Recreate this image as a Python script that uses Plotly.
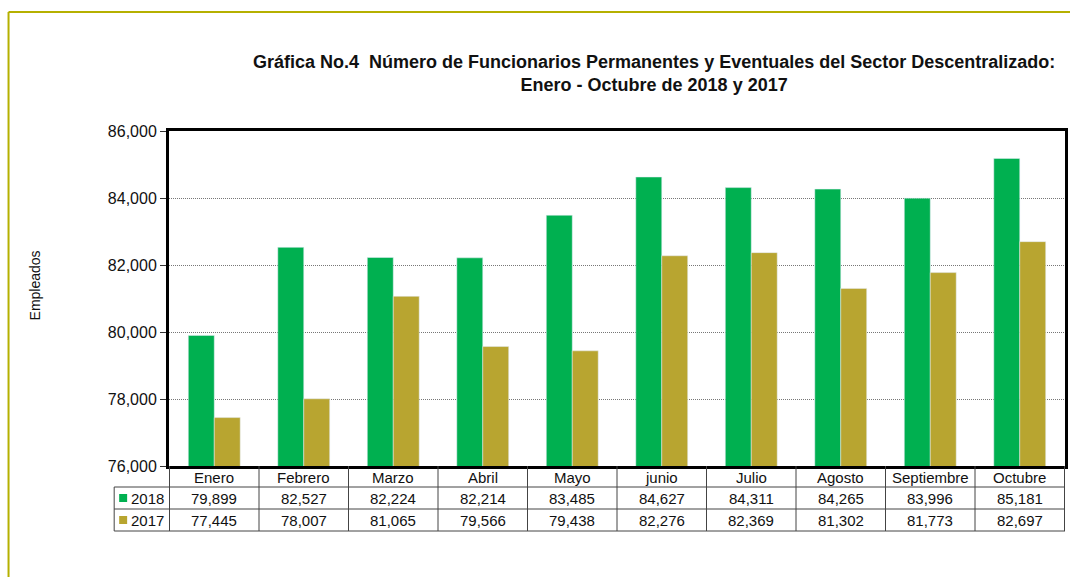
import plotly.graph_objects as go

months = ["Enero", "Febrero", "Marzo", "Abril", "Mayo", "junio", "Julio",
          "Agosto", "Septiembre", "Octubre"]
emp_2018 = [79899, 82527, 82224, 82214, 83485, 84627, 84311, 84265, 83996, 85181]
emp_2017 = [77445, 78007, 81065, 79566, 79438, 82276, 82369, 81302, 81773, 82697]

GREEN = "#00b050"
OLIVE = "#b8a530"
FONT = "Liberation Sans, Arial, sans-serif"

fig = go.Figure()
fig.add_trace(go.Bar(x=months, y=emp_2018, name="2018", marker_color=GREEN))
fig.add_trace(go.Bar(x=months, y=emp_2017, name="2017", marker_color=OLIVE))

# data table below the plot (paper y: 1 unit = 335 px)
px = 1 / 335.0
y_head, y_r1, y_r2 = -11 * px, -32 * px, -54 * px
y_l1, y_l2, y_l3 = -21 * px, -43 * px, -65 * px
x_leg = -55 / 899.0

shapes = []
line = dict(color="#444444", width=1)
for k in range(len(months) + 1):
    shapes.append(dict(type="line", xref="x", yref="paper", x0=k - 0.5, x1=k - 0.5,
                       y0=0, y1=y_l3, line=line))
shapes.append(dict(type="line", xref="paper", yref="paper", x0=x_leg, x1=x_leg,
                   y0=y_l1, y1=y_l3, line=line))
for yl in (y_l1, y_l2, y_l3):
    shapes.append(dict(type="line", xref="paper", yref="paper", x0=x_leg, x1=1,
                       y0=yl, y1=yl, line=line))

cell_font = dict(size=15, color="#111")
annotations = []
for i, m in enumerate(months):
    for yc, txt in ((y_head, m), (y_r1, f"{emp_2018[i]:,}"), (y_r2, f"{emp_2017[i]:,}")):
        annotations.append(dict(x=m, y=yc, xref="x", yref="paper", text=txt,
                                xanchor="center", yanchor="middle",
                                showarrow=False, font=cell_font))

for label, color, yc in (("2018", GREEN, y_r1), ("2017", OLIVE, y_r2)):
    shapes.append(dict(type="rect", xref="paper", yref="paper",
                       x0=-50 / 899.0, x1=-42 / 899.0, y0=yc - 4 * px, y1=yc + 4 * px,
                       fillcolor=color, line=dict(width=0)))
    annotations.append(dict(x=-40 / 899.0, y=yc, xref="paper", yref="paper", text=label,
                            xanchor="left", yanchor="middle", showarrow=False, font=cell_font))

# outer frame (top and left edges)
frame = dict(color="#b5b000", width=2)
shapes.append(dict(type="line", xref="paper", yref="paper", x0=-161 / 899.0, x1=1.01,
                   y0=454 * px, y1=454 * px, line=frame))
shapes.append(dict(type="line", xref="paper", yref="paper", x0=-161 / 899.0, x1=-161 / 899.0,
                   y0=454 * px, y1=-120 * px, line=frame))

annotations.append(dict(
    x=(656 - 169) / 899.0, y=(466 - 73) * px, xref="paper", yref="paper",
    xanchor="center", yanchor="middle", showarrow=False,
    text="<b>Gráfica No.4  Número de Funcionarios Permanentes y Eventuales del Sector Descentralizado:</b>"
         "<br><b>Enero - Octubre de 2018 y 2017</b>",
    font=dict(size=18, color="#111")))

# y axis title
annotations.append(dict(
    x=(35 - 169) / 899.0, y=(466 - 285) * px, xref="paper", yref="paper",
    xanchor="center", yanchor="middle", showarrow=False, textangle=-90,
    text="Empleados", font=dict(size=14, color="#111")))

fig.update_layout(
    width=1070, height=577,
    margin=dict(l=169, r=2, t=131, b=111),
    paper_bgcolor="white", plot_bgcolor="white",
    font=dict(family=FONT, color="#111"),
    barmode="group", bargap=0.42, bargroupgap=0,
    showlegend=False,
    shapes=shapes, annotations=annotations,
)
fig.update_xaxes(showticklabels=False, showline=True, linecolor="black", linewidth=3,
                 mirror=True, ticks="")
fig.update_yaxes(range=[76000, 86000], dtick=2000, tickformat=",d",
                 showline=True, linecolor="black", linewidth=3, mirror=True,
                 ticks="outside", ticklen=6, tickcolor="#333",
                 showgrid=True, gridcolor="#777777", griddash="1px,1px", gridwidth=1,
                 tickfont=dict(size=16, color="#111"))

fig.write_html("out.html", config={"displayModeBar": False},
               post_script="document.body.style.margin='0';")
